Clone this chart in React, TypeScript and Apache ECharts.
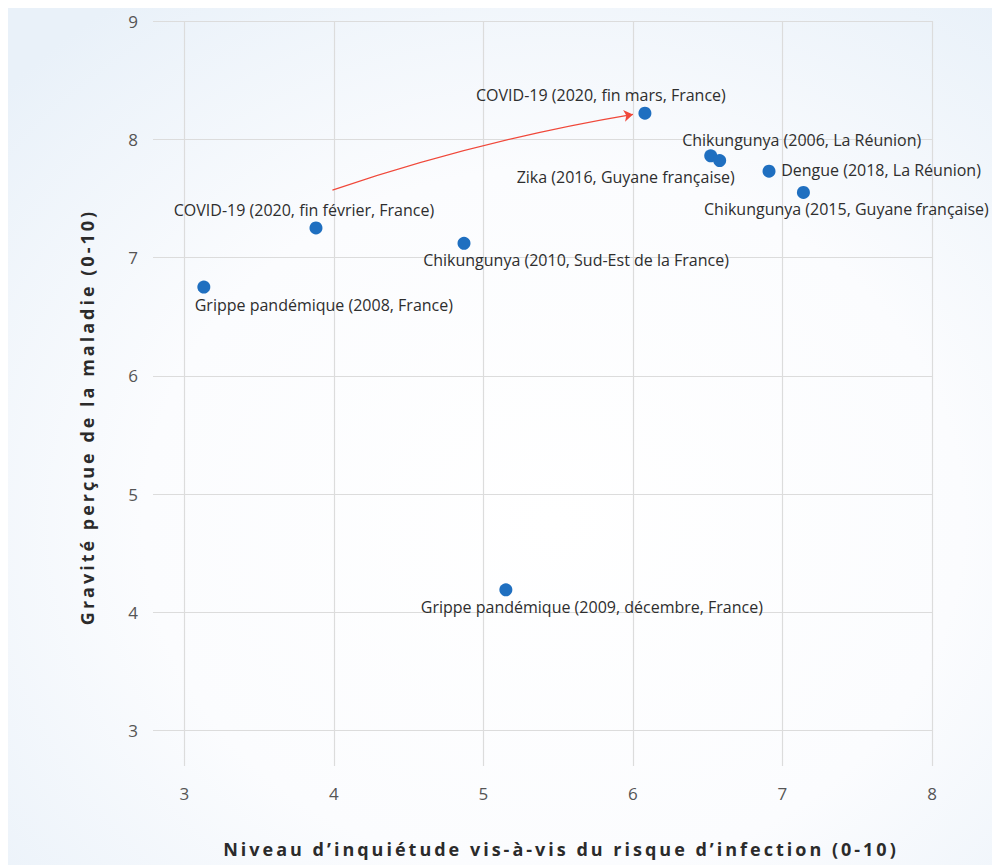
import React, { useEffect, useRef } from "react";
import * as echarts from "echarts";

const pointNames = [
  "Grippe pandémique (2008, France)",
  "COVID-19 (2020, fin février, France)",
  "Chikungunya (2010, Sud-Est de la France)",
  "COVID-19 (2020, fin mars, France)",
  "Chikungunya (2006, La Réunion)",
  "Zika (2016, Guyane française)",
  "Dengue (2018, La Réunion)",
  "Chikungunya (2015, Guyane française)",
  "Grippe pandémique (2009, décembre, France)",
];
const worryValues = [3.13, 3.88, 4.87, 6.08, 6.52, 6.58, 6.91, 7.14, 5.15];
const severityValues = [6.75, 7.25, 7.12, 8.22, 7.86, 7.82, 7.73, 7.55, 4.19];
const xTicks = [3, 4, 5, 6, 7, 8];
const yTicks = [3, 4, 5, 6, 7, 8, 9];
const arrowFrom = [3.99, 7.57];
const arrowTo = [6.0, 8.21];
const xTitle = "Niveau d’inquiétude vis-à-vis du risque d’infection (0-10)";
const yTitle = "Gravité perçue de la maladie (0-10)";

// label offsets (pixels) relative to the point centre
const labelOffsets: number[][] = [
  [120, 18],
  [-12, -18],
  [112, 17],
  [-44, -18],
  [91, -16],
  [-94, 16],
  [112, -1],
  [43, 17],
  [86, 17],
];

const FONT = "'Open Sans', 'Noto Sans', sans-serif";
const LABEL_COLOR = "#2e2e2e";

export default function App() {
  const ref = useRef<HTMLDivElement>(null);
  useEffect(() => {
    document.documentElement.style.overflow = "hidden";
    const chart = echarts.init(ref.current!, null, { renderer: "svg" });
    const data = pointNames.map((n, i) => ({
      name: n,
      value: [worryValues[i], severityValues[i]],
      label: {
        show: true,
        position: "inside",
        offset: labelOffsets[i],
        formatter: n,
        color: LABEL_COLOR,
        fontSize: 16,
        fontFamily: FONT,
      },
    }));
    const applySpacing = () => {
      const el = ref.current;
      if (!el) return;
      el.querySelectorAll("text").forEach((t) => {
        const s = t.textContent || "";
        if (s === xTitle || s === yTitle) {
          t.setAttribute("letter-spacing", "3");
        }
      });
    };
    chart.on("finished", applySpacing);
    chart.setOption({
      animation: false,
      backgroundColor: new echarts.graphic.RadialGradient(0.55, 0.6, 0.75, [
        { offset: 0, color: "#ffffff" },
        { offset: 0.55, color: "#fbfcfe" },
        { offset: 1, color: "#e9f1f9" },
      ]),
      grid: { left: 145, right: 68, top: 13, bottom: 99 },
      xAxis: {
        type: "value",
        min: 2.79,
        max: 8,
        axisLine: { show: false },
        axisTick: { show: false, customValues: xTicks },
        axisLabel: {
          customValues: xTicks,
          color: "#555555",
          fontSize: 17,
          fontFamily: FONT,
          margin: 19,
        },
        splitLine: { show: true, lineStyle: { color: "#dcdcdc", width: 1.2 } },
      },
      yAxis: {
        type: "value",
        min: 2.7,
        max: 9,
        axisLine: { show: false },
        axisTick: { show: false, customValues: yTicks },
        axisLabel: {
          customValues: yTicks,
          color: "#555555",
          fontSize: 17,
          fontFamily: FONT,
          margin: 15,
        },
        splitLine: { show: true, lineStyle: { color: "#dcdcdc", width: 1.2 } },
      },
      graphic: [
        {
          type: "text",
          x: 553,
          y: 841,
          style: {
            text: xTitle,
            fontSize: 18,
            fontWeight: "bold",
            fontFamily: FONT,
            fill: "#2b2b2b",
            align: "center",
            verticalAlign: "middle",
          },
        },
        {
          type: "text",
          x: 79,
          y: 409,
          rotation: Math.PI / 2,
          style: {
            text: yTitle,
            fontSize: 18,
            fontWeight: "bold",
            fontFamily: FONT,
            fill: "#2b2b2b",
            align: "center",
            verticalAlign: "middle",
          },
        },
      ],
      series: [
        {
          type: "lines",
          coordinateSystem: "cartesian2d",
          symbol: ["none", "arrow"],
          symbolSize: 9,
          lineStyle: { color: "#f0483a", width: 1.2, curveness: 0.04, opacity: 1 },
          data: [{ coords: [arrowFrom, arrowTo] }],
          silent: true,
          z: 1,
        },
        {
          type: "scatter",
          symbolSize: 13,
          itemStyle: { color: "#1f6fc0", opacity: 1 },
          data,
          z: 3,
        },
      ],
    });
    applySpacing();
    return () => chart.dispose();
  }, []);
  return <div ref={ref} style={{ width: 992, height: 857 }} />;
}
